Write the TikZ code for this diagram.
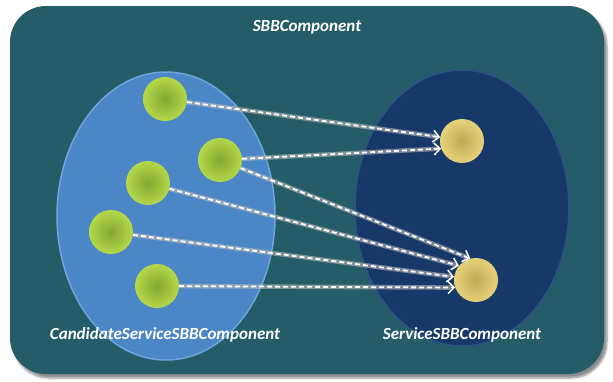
\documentclass[tikz,border=0pt]{standalone}
\usepackage{fontspec}
\setmainfont{Carlito}
\usetikzlibrary{shapes.geometric,arrows.meta,shadows.blur}

\definecolor{frame}{HTML}{245C68}
\definecolor{candfill}{HTML}{4B86C6}
\definecolor{candrim}{HTML}{6FA6DE}
\definecolor{servfill}{HTML}{17396A}
\definecolor{servrim}{HTML}{2C5286}
\definecolor{greenin}{HTML}{84A630}
\definecolor{greenout}{HTML}{B4D84A}
\definecolor{goldin}{HTML}{C2A852}
\definecolor{goldout}{HTML}{E6D27C}

\tikzset{
  label text/.style={text=white, font=\fontsize{17}{19}\selectfont\bfseries\itshape},
  greenball/.style={circle, minimum size=44pt, inner sep=0pt, shade, inner color=greenin, outer color=greenout},
  goldball/.style={circle, minimum size=44pt, inner sep=0pt, shade, inner color=goldin, outer color=goldout},
  link halo/.style={draw=gray!55!white, opacity=0.6, line width=4.5pt, shorten >=4pt},
  link/.style={draw=white, line width=1.8pt, dash pattern=on 5pt off 3pt,
    -{Straight Barb[length=6pt,width=12pt,line width=1.5pt]}},
}

\begin{document}
\begin{tikzpicture}[x=1pt,y=-1pt]
  \useasboundingbox (0,0) rectangle (613,381);

  % outer container
  \node[draw=none, fill=frame, rounded corners=36pt, minimum width=594pt, minimum height=368pt,
        blur shadow={shadow xshift=3pt, shadow yshift=-4pt, shadow blur steps=8, shadow opacity=45}]
        (outer) at (307,190) {};
  \node[label text] (title) at (307,27) {SBBComponent};

  % the two component sets
  \node[ellipse, fill=candfill, draw=candrim, line width=1.5pt, minimum width=218pt, minimum height=288pt]
        (cand) at (166,216) {};
  \node[ellipse, fill=servfill, draw=servrim, line width=1.5pt, minimum width=214pt, minimum height=276pt]
        (serv) at (462,208) {};

  \node[label text] (candlabel) at (165,335) {CandidateServiceSBBComponent};
  \node[label text] (servlabel) at (462,335) {ServiceSBBComponent};

  % candidate services
  \node[greenball] (g1) at (165,99) {};
  \node[greenball] (g2) at (220,160) {};
  \node[greenball] (g3) at (148,183) {};
  \node[greenball] (g4) at (111,232) {};
  \node[greenball] (g5) at (157,286) {};

  % selected services
  \node[goldball] (sA) at (462,141) {};
  \node[goldball] (sB) at (476,280) {};

  % mappings
  \foreach \a/\b in {g1/sA.170, g2/sA.200, g2/sB.105, g3/sB.140, g4/sB.172, g5/sB.200} {
    \draw[link halo] (\a) -- (\b);
  }
  \foreach \a/\b in {g1/sA.170, g2/sA.200, g2/sB.105, g3/sB.140, g4/sB.172, g5/sB.200} {
    \draw[link] (\a) -- (\b);
  }
\end{tikzpicture}
\end{document}
